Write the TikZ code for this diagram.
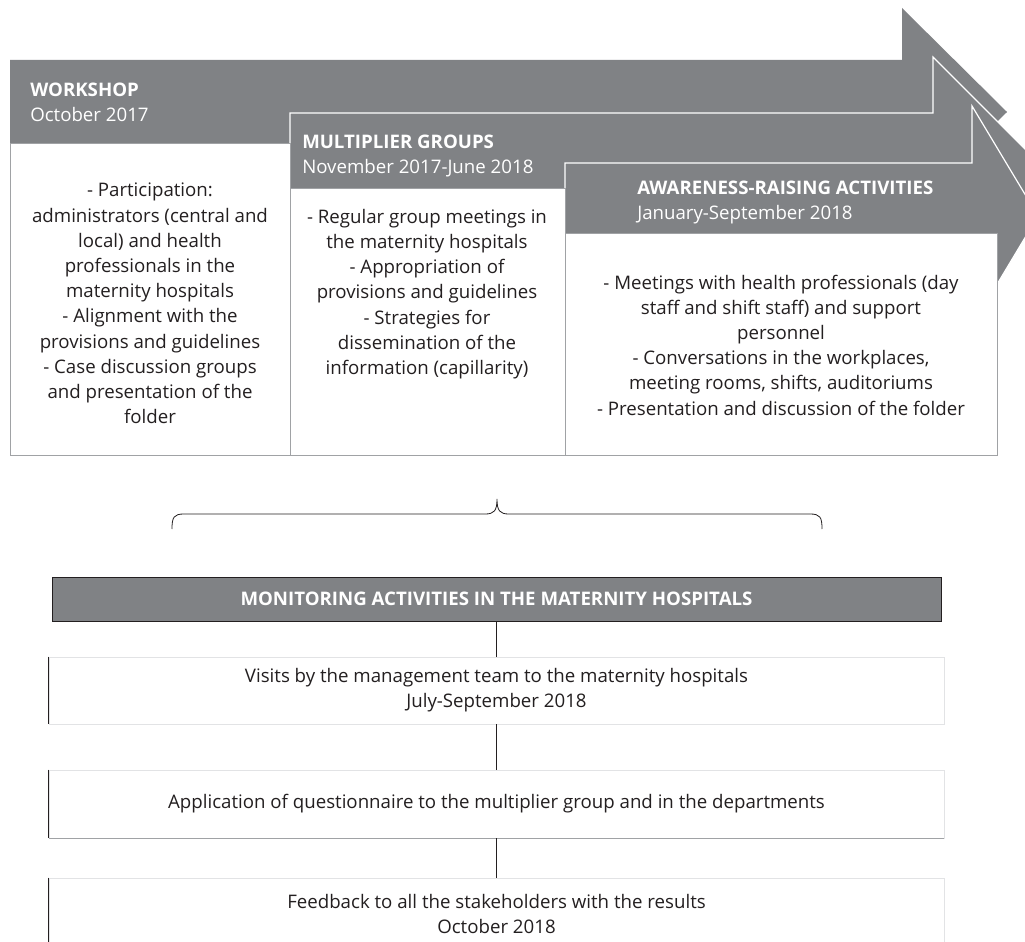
\documentclass[tikz,border=0pt]{standalone}
\usepackage{fontspec}
\setmainfont{Open Sans}
\definecolor{agray}{RGB}{128,130,133}
\definecolor{tdark}{RGB}{35,31,32}
\definecolor{bline}{RGB}{160,162,165}
\definecolor{lline}{RGB}{226,227,229}
\begin{document}
\begin{tikzpicture}[x=0.75pt,y=-0.75pt,
  arrowshape/.style={fill=agray, draw=white, line width=0.9pt, line join=miter},
  topbox/.style={fill=white, draw=bline, line width=0.7pt},
  body/.style={font=\fontsize{14}{18.9}\selectfont, text=tdark, align=center, inner sep=0pt},
  head/.style={font=\fontsize{14}{18.9}\selectfont\bfseries, text=white, inner sep=0pt, anchor=base west},
  sub/.style={font=\fontsize{14}{18.9}\selectfont, text=white, inner sep=0pt, anchor=base west},
  bar/.style={fill=agray, draw=tdark, line width=0.6pt, minimum width=666.75pt, minimum height=33pt, inner sep=0pt,
              font=\fontsize{14}{18.9}\selectfont\bfseries, text=white},
  stepbox/.style={fill=white, draw=lline, line width=0.7pt, minimum width=671.25pt, inner sep=0pt,
              font=\fontsize{14}{18.9}\selectfont, text=tdark, align=center},
  link/.style={draw=tdark, line width=0.7pt}
]
\useasboundingbox (0,0) rectangle (1025,942);
\clip (0,0) rectangle (1025,942);

% ---- arrows ----
\fill[agray] (10,60) -- (902,60) -- (902,8) -- (1007,112) -- (902,216) -- (902,164) -- (10,164) -- cycle;
\path[arrowshape] (290,113) -- (933,113) -- (933,57) -- (1051,175) -- (933,293) -- (933,237) -- (290,237) -- cycle;
\path[arrowshape] (565,163) -- (972,163) -- (972,106) -- (1038,216) -- (972,326) -- (972,269) -- (565,269) -- cycle;

% ---- white boxes ----
\path[topbox] (10,143) rectangle (290,455);
\path[topbox] (290,188) rectangle (565,455);
\path[topbox] (565,233) rectangle (997,455);

% ---- headers ----
\node[head] (h1) at (30,96.5) {WORKSHOP};
\node[sub] (d1) at (30,121.5) {October 2017};
\node[head] (h2) at (302,148.5) {MULTIPLIER GROUPS};
\node[sub] (d2) at (302,173.5) {November 2017-June 2018};
\node[head] (h3) at (637,194.5) {AWARENESS-RAISING ACTIVITIES};
\node[sub] (d3) at (637,219.5) {January-September 2018};

% ---- box texts ----
\node[body] (t1) at (150,303.5) {- Participation:\\administrators (central and\\local) and health\\professionals in the\\maternity hospitals\\- Alignment with the\\provisions and guidelines\\- Case discussion groups\\and presentation of the\\folder};
\node[body] (t2) at (427,294) {- Regular group meetings in\\the maternity hospitals\\- Appropriation of\\provisions and guidelines\\- Strategies for\\dissemination of the\\information (capillarity)};
\node[body] (t3) at (781,345) {- Meetings with health professionals (day\\staff and shift staff) and support\\personnel\\- Conversations in the workplaces,\\meeting rooms, shifts, auditoriums\\- Presentation and discussion of the folder};

% ---- brace ----
\draw[tdark, line width=0.6pt] (172,529) .. controls (172,517) and (174,514) .. (184,514) -- (485,514)
  .. controls (494,514) and (497,511) .. (497,499) .. controls (497,511) and (500,514) .. (509,514)
  -- (810,514) .. controls (820,514) and (822,517) .. (822,529);

% ---- monitoring ----
\node[bar] (bar) at (496.5,599) {MONITORING ACTIVITIES IN THE MATERNITY HOSPITALS};
\node[stepbox, minimum height=50.25pt] (b1) at (496.5,690.5) {Visits by the management team to the maternity hospitals\\July-September 2018};
\node[stepbox, minimum height=51pt] (b2) at (496.5,804) {Application of questionnaire to the multiplier group and in the departments};
\node[stepbox, minimum height=54pt] (b3) at (496.5,914) {Feedback to all the stakeholders with the results\\October 2018};

\draw[tdark, line width=0.7pt] (b1.north west) -- (b1.south west);
\draw[tdark, line width=0.7pt] (b2.north west) -- (b2.south west);
\draw[tdark, line width=0.7pt] (b3.north west) -- (b3.south west);
\draw[bline, line width=0.7pt] (b2.south west) -- (b2.south east);

\draw[link] (bar.south) -- (b1.north);
\draw[link] (b1.south) -- (b2.north);
\draw[link] (b2.south) -- (b3.north);
\end{tikzpicture}
\end{document}
